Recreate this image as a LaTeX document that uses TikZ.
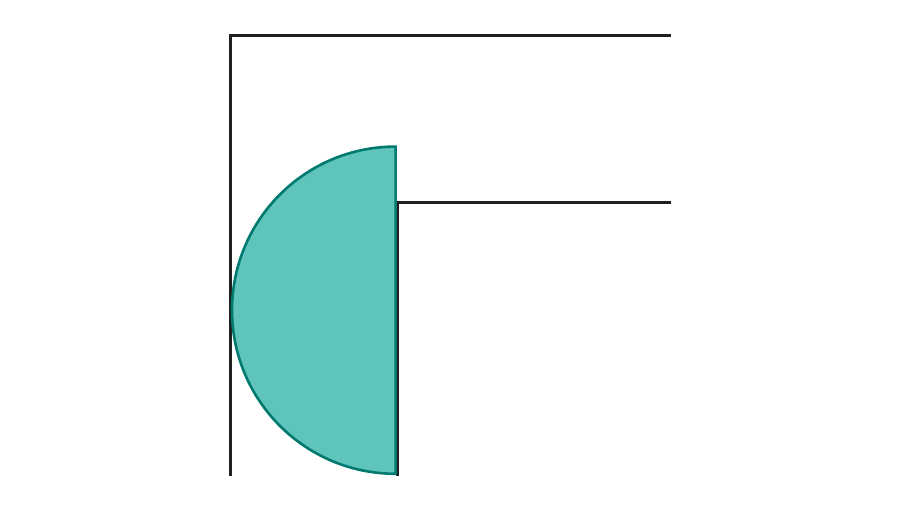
\documentclass[tikz,border=0pt]{standalone}
\begin{document}
\begin{tikzpicture}[x=1pt,y=-1pt,
  wall/.style={draw=black!88, line width=3pt},
  halfdisk/.style={draw={rgb,255:red,0;green,121;blue,110}, fill={rgb,255:red,94;green,196;blue,188}, line width=2.6pt}]
\useasboundingbox (0,0) rectangle (900,510);
\draw[wall] (230,476) -- (230,35.2) -- (671,35.2);
\draw[wall] (671,202.8) -- (397.8,202.8) -- (397.8,476);
\draw[halfdisk] (395.6,146.6) arc[start angle=270, end angle=90, radius=163.6] -- cycle;
\end{tikzpicture}
\end{document}
